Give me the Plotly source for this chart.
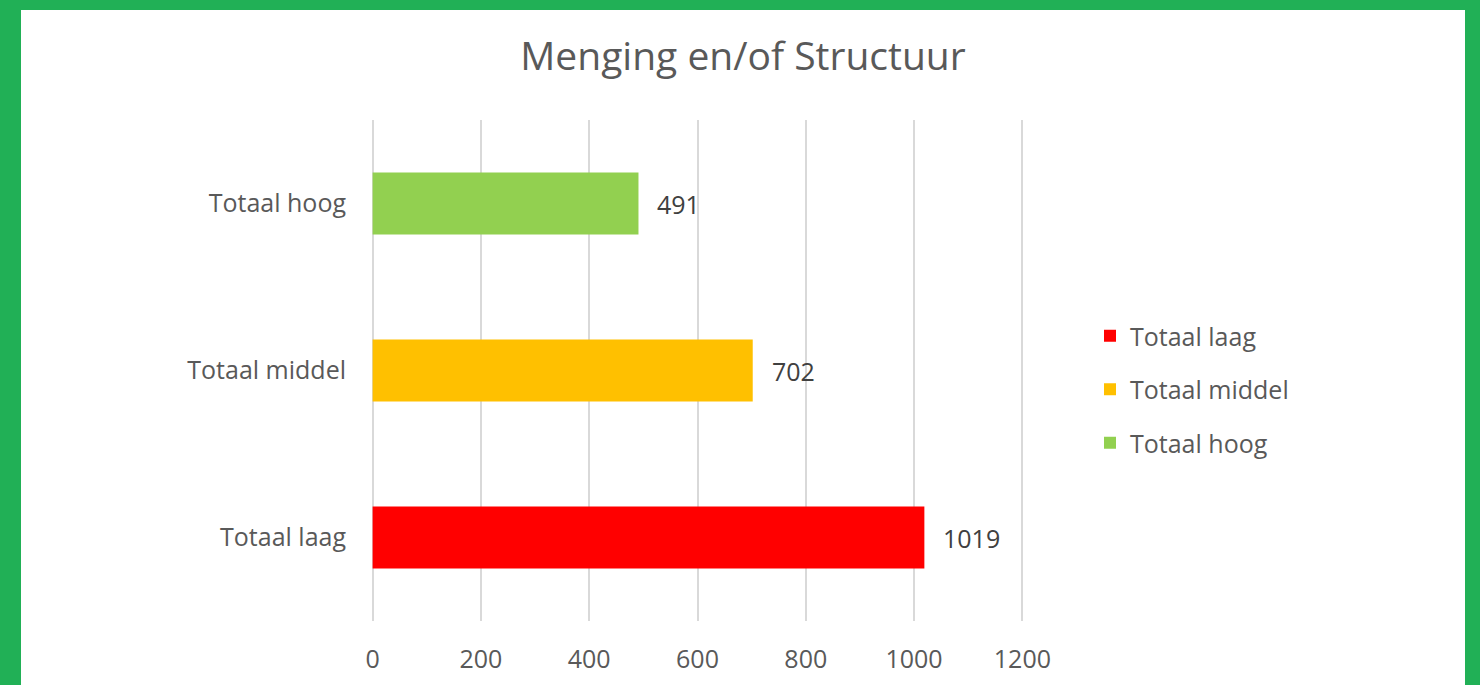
import plotly.graph_objects as go

# Chart data
categories = ["Totaal laag", "Totaal middel", "Totaal hoog"]
values = [1019, 702, 491]
colors = ["#ff0000", "#ffc000", "#92d050"]
x_ticks = [0, 200, 400, 600, 800, 1000, 1200]

W, H = 1480, 685
L, R, T, B = 371, 456, 120, 64
pw, ph = W - L - R, H - T - B

FONT = "'Open Sans', sans-serif"
GREY = "#595959"
FS = 25

fig = go.Figure()
for i, (cat, val, col) in enumerate(zip(categories, values, colors)):
    fig.add_trace(go.Bar(
        y=[cat], x=[val], orientation="h", name=cat,
        marker=dict(color=col, line=dict(width=0)),
        width=0.37, legendgroup=f"g{i}",
    ))
    fig.add_annotation(
        x=val, y=cat, text=str(val), showarrow=False,
        xanchor="left", xshift=17,
        font=dict(family=FONT, size=FS, color="#404040"),
    )

# white card inside the green frame
def px_x(p):
    return (p - L) / pw

def px_y(p):
    return (H - B - p) / ph

fig.add_shape(type="rect", xref="paper", yref="paper",
              x0=px_x(21), x1=px_x(1465), y0=px_y(700), y1=px_y(10),
              fillcolor="white", line=dict(width=0), layer="below")

fig.update_layout(
    width=W, height=H,
    margin=dict(l=L, r=R, t=T, b=B, pad=0, autoexpand=False),
    paper_bgcolor="#21b056",
    plot_bgcolor="white",
    barmode="overlay",
    title=dict(text="Menging en/of Structuur", x=743 / W, xanchor="center",
               y=1 - 56 / H, yanchor="middle",
               font=dict(family=FONT, size=39, color=GREY)),
    showlegend=True,
    legend=dict(
        x=px_x(1090), xanchor="left", y=px_y(313), yanchor="top",
        font=dict(family=FONT, size=FS, color=GREY),
        traceorder="grouped", tracegroupgap=18,
        itemwidth=30, bgcolor="rgba(0,0,0,0)",
    ),
    xaxis=dict(
        range=[-3, 1203], tickvals=x_ticks, showgrid=True,
        gridcolor="#d9d9d9", gridwidth=1.5, zeroline=False,
        showline=False, ticks="outside", ticklen=16,
        tickcolor="rgba(0,0,0,0)", automargin=False,
        tickfont=dict(family=FONT, size=FS, color=GREY),
        fixedrange=True,
    ),
    yaxis=dict(
        categoryorder="array", categoryarray=categories,
        range=[-0.5, 2.5], showgrid=False, zeroline=False,
        showline=False, ticks="outside", ticklen=19,
        tickcolor="rgba(0,0,0,0)", automargin=False,
        tickfont=dict(family=FONT, size=FS, color=GREY),
        fixedrange=True,
    ),
)

fig.write_html("out.html", config={"displayModeBar": False})
